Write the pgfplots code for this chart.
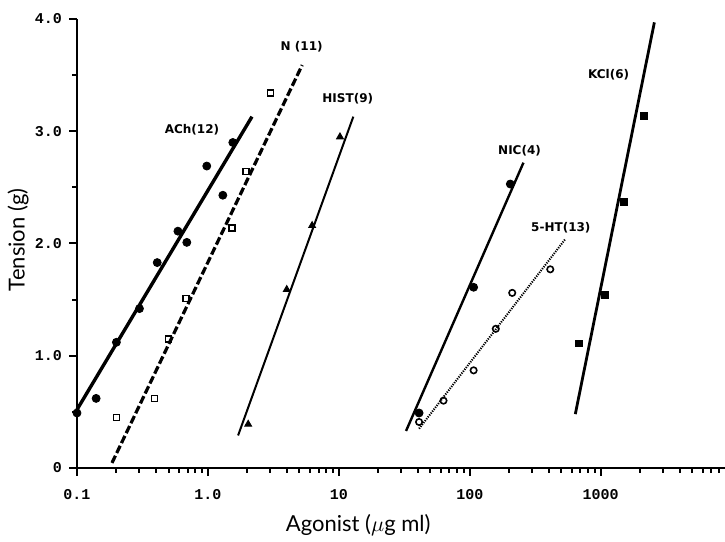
\documentclass[border=0pt]{standalone}
\usepackage{fontspec}
\usepackage{pgfplots}
\pgfplotsset{compat=1.18}
\setmainfont{Lato}
\newfontfamily\tickfont{Liberation Mono}
\newfontfamily\labfont{DejaVu Sans}
\begin{document}
\begin{tikzpicture}
\path[use as bounding box] (-38.5pt,-37pt) rectangle (324pt,234pt);
\begin{axis}[
  at={(0pt,0pt)}, anchor=south west,
  scale only axis, width=324pt, height=224.5pt,
  xmode=log, xmin=0.1, xmax=8900, ymin=0, ymax=4,
  axis x line=bottom, axis y line=left,
  axis line style={line width=1.4pt,-},
  clip=false,
  xtick={0.1,1,10,100,1000}, xticklabels={0.1,1.0,10,100,1000},
  minor xtick={0.2,0.3,0.4,0.5,0.6,0.7,0.8,0.9,2,3,4,5,6,7,8,9,20,30,40,50,60,70,80,90,200,300,400,500,600,700,800,900,2000,3000,4000,5000,6000,7000,8000},
  ytick={0,1,2,3,4}, yticklabels={0,1.0,2.0,3.0,4.0},
  minor ytick={0.5,1.5,2.5,3.5},
  tick align=outside, major tick length=4pt, minor tick length=2.5pt,
  tick style={line width=1pt,black},
  /pgf/number format/assume math mode=true,
  ticklabel style={font=\tickfont\fontsize{7.5}{8}\selectfont\bfseries},
  xticklabel style={yshift=-3pt},
  yticklabel style={xshift=0pt},
  xlabel={Agonist ($\mu$g ml)}, ylabel={Tension (g)},
  label style={font=\fontsize{11}{13}\selectfont},
  xlabel style={at={(axis description cs:0.434,0)}, anchor=center, yshift=-28.5pt},
  ylabel style={at={(axis description cs:0,0.508)}, anchor=center, rotate=0, yshift=29.5pt},
]
% ACh
\addplot[only marks, mark=*, mark size=2pt, black] coordinates {
(0.1,0.49) (0.14,0.62) (0.2,1.12) (0.30,1.42) (0.41,1.83) (0.59,2.11) (0.69,2.01) (0.98,2.69) (1.3,2.43) (1.55,2.90)};
\addplot[line width=1.7pt, black] coordinates {(0.1,0.52) (2.17,3.13)};
% N
\addplot[only marks, mark=square, mark size=1.5pt, mark options={line width=0.8pt}, black] coordinates {
(0.2,0.45) (0.39,0.62) (0.5,1.15) (0.68,1.51) (1.52,2.14) (1.95,2.64) (3.0,3.34)};
\addplot[line width=1.6pt, black, dash pattern=on 4pt off 1.5pt] coordinates {(0.185,0.045) (5.25,3.59)};
% HIST
\addplot[only marks, mark=triangle*, mark size=2pt, black] coordinates {
(2.03,0.39) (4.0,1.59) (6.25,2.16) (10.2,2.95)};
\addplot[line width=1pt, black] coordinates {(1.70,0.29) (12.9,3.13)};
% NIC
\addplot[only marks, mark=*, mark size=2pt, black] coordinates {
(41,0.49) (107,1.61) (204,2.53)};
\addplot[line width=1.2pt, black] coordinates {(32.6,0.33) (257,2.72)};
% 5-HT
\addplot[only marks, mark=o, mark size=1.6pt, mark options={line width=0.8pt}, black] coordinates {
(41,0.41) (63,0.60) (107,0.87) (158,1.24) (211,1.56) (412,1.77)};
\addplot[line width=1pt, black, dash pattern=on 0.6pt off 0.6pt] coordinates {(41,0.35) (537,2.04)};
% KCl
\addplot[only marks, mark=square*, mark size=1.7pt, black] coordinates {
(686,1.11) (1070,1.54) (1510,2.37) (2140,3.14)};
\addplot[line width=1.4pt, black] coordinates {(640,0.48) (2570,3.97)};
% labels
\begin{scope}[every node/.style={font=\labfont\fontsize{6}{7}\selectfont\bfseries}]
\node at (axis cs:5.2,3.75) {N (11)};
\node at (axis cs:0.755,3.01) {ACh(12)};
\node at (axis cs:11.7,3.29) {HIST(9)};
\node at (axis cs:240,2.83) {NIC(4)};
\node at (axis cs:496,2.14) {5-HT(13)};
\node at (axis cs:1150,3.50) {KCl(6)};
\end{scope}
\end{axis}
\end{tikzpicture}
\end{document}
